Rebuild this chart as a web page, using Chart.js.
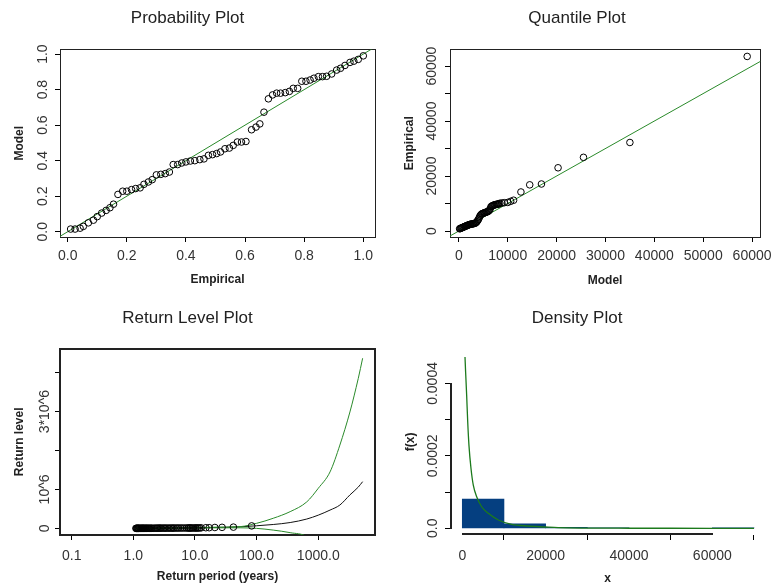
<!DOCTYPE html>
<html>
<head>
<meta charset="utf-8">
<title>GPD diagnostics</title>
<script src="https://cdn.jsdelivr.net/npm/chart.js@4/dist/chart.umd.min.js"></script>
<style>
  body { margin: 0; background: #fff; }
  #wrap { display: grid; grid-template-columns: 389px 389px; grid-template-rows: 294px 294px; width: 778px; height: 588px; }
  #wrap div { position: relative; width: 389px; height: 294px; }
</style>
</head>
<body>
<div id="wrap">
  <div><canvas id="prob" width="389" height="294"></canvas></div>
  <div><canvas id="quant" width="389" height="294"></canvas></div>
  <div><canvas id="retlev" width="389" height="294"></canvas></div>
  <div><canvas id="dens" width="389" height="294"></canvas></div>
</div>
<script>
// probability plot: empirical vs model probabilities
const probEmpirical = [0.01, 0.025, 0.042, 0.053, 0.07, 0.087, 0.10, 0.115, 0.13, 0.143, 0.155, 0.17, 0.186, 0.20, 0.216, 0.23, 0.245, 0.258, 0.273, 0.286, 0.30, 0.315, 0.33, 0.344, 0.357, 0.372, 0.386, 0.40, 0.415, 0.43, 0.447, 0.461, 0.476, 0.49, 0.504, 0.517, 0.532, 0.547, 0.56, 0.574, 0.588, 0.603, 0.622, 0.637, 0.65, 0.664, 0.679, 0.693, 0.707, 0.72, 0.736, 0.75, 0.763, 0.778, 0.792, 0.806, 0.82, 0.833, 0.848, 0.862, 0.876, 0.893, 0.91, 0.923, 0.938, 0.955, 0.968, 0.983, 1.0];
const probModel = [0.015, 0.015, 0.02, 0.03, 0.05, 0.065, 0.085, 0.105, 0.12, 0.135, 0.155, 0.21, 0.228, 0.228, 0.237, 0.243, 0.247, 0.267, 0.28, 0.293, 0.32, 0.323, 0.327, 0.336, 0.378, 0.378, 0.387, 0.393, 0.398, 0.40, 0.406, 0.41, 0.43, 0.434, 0.44, 0.449, 0.467, 0.471, 0.486, 0.505, 0.505, 0.508, 0.574, 0.589, 0.607, 0.673, 0.748, 0.77, 0.78, 0.78, 0.783, 0.79, 0.807, 0.807, 0.847, 0.847, 0.854, 0.864, 0.873, 0.873, 0.875, 0.888, 0.91, 0.92, 0.936, 0.953, 0.96, 0.97, 0.99];
const probTicks = [0, 0.2, 0.4, 0.6, 0.8, 1.0];
const probTickLabels = ['0.0', '0.2', '0.4', '0.6', '0.8', '1.0'];

// quantile plot: model quantiles vs sorted observations
const quantModel = [150, 270, 400, 520, 650, 780, 900, 1030, 1160, 1290, 1420, 1550, 1690, 1820, 1960, 2100, 2240, 2380, 2520, 2660, 2800, 2950, 3100, 3250, 3400,
  3550, 3700, 3850, 4000, 4150, 4300, 4450, 4600,
  4750, 4900, 5050, 5200, 5350, 5500, 5650, 5800, 5950, 6100, 6250, 6400,
  6550, 6700, 6850, 7000, 7150, 7300, 7450, 7600, 7750, 7900, 8050, 8200,
  8400, 8800, 9300, 10000, 10600, 11200, 12700, 14500, 16900,
  20300, 25500, 35000, 59000];
const quantEmpirical = [800, 900, 1000, 1100, 1200, 1300, 1400, 1500, 1600, 1700, 1800, 1900, 2000, 2100, 2200, 2300, 2400, 2450, 2500, 2550, 2600, 2650, 2700, 2800, 2900,
  3100, 3400, 3800, 4200, 4800, 5400, 5800, 6100,
  6300, 6400, 6500, 6600, 6700, 6800, 6900, 7000, 7100, 7300, 7600, 8000,
  8800, 9000, 9200, 9300, 9400, 9500, 9600, 9650, 9700, 9750, 9800, 9900,
  10100, 10200, 10300, 10400, 10800, 11200, 14200, 16800, 17100,
  23000, 26800, 32200, 63500];
const quantXTicks = [0, 10000, 20000, 30000, 40000, 50000, 60000];
const quantXLabels = ['0', '10000', '20000', '30000', '40000', '50000', '60000'];
const quantYTicks = [0, 10000, 20000, 30000, 40000, 50000, 60000];
const quantYLabels = ['0', '', '20000', '', '40000', '', '60000'];

// return level plot
const returnPeriods = [1.1, 1.12, 1.14, 1.16, 1.18, 1.2, 1.22, 1.24, 1.27, 1.3, 1.33, 1.36, 1.39, 1.42, 1.45, 1.48, 1.52, 1.56, 1.6, 1.64, 1.68, 1.73, 1.78, 1.83, 1.89, 1.95, 2.0, 2.1, 2.2, 2.3, 2.4, 2.5, 2.6, 2.7, 2.8, 2.95, 3.1, 3.25, 3.4, 3.6, 3.8, 4.0, 4.2, 4.4, 4.6, 4.9, 5.2, 5.5, 5.9, 6.3, 6.8, 7.3, 7.7, 8.0, 8.3, 8.6, 9.0, 9.5, 10.0, 10.4, 10.9, 11.3, 11.9, 12.6, 15, 17, 21, 27.5, 42, 83];
const curvePeriods = [1.1, 2, 5, 10, 20, 54, 100, 186, 350, 650, 1000, 1550, 2240, 3260, 4450, 5240];
const levelFit = [500, 3000, 8000, 13000, 22000, 40000, 67000, 100000, 150000, 240000, 340000, 470000, 600000, 860000, 1060000, 1200000];
const levelUpper = [700, 5000, 12000, 18000, 30000, 45000, 130000, 260000, 430000, 680000, 1030000, 1450000, 2140000, 2990000, 3850000, 4370000];
const levelLower = [300, 2000, 5000, 9000, 14000, 15000, 0, -44000, -110000, -210000, -500000, -800000, -1200000, -1700000, -2200000, -2600000];
const periodTicks = [0.1, 1, 10, 100, 1000];
const periodLabels = ['0.1', '1.0', '10.0', '100.0', '1000.0'];
const levelTicks = [0, 1e6, 2e6, 3e6, 4e6];
const levelLabels = ['0', '10^6', '', '3*10^6', ''];

// density plot: histogram bins and fitted density
const binCentres = [5000, 15000, 25000, 35000, 45000, 55000, 65000];
const binHeights = [0.0000807, 0.0000125, 0.0000029, 0.0000014, 0, 0, 0.0000014];
const densX = [650, 800, 1050, 1300, 1600, 2090, 2640, 3450, 4650, 6240, 8640, 11850, 15840, 19850, 23000, 30000, 40000, 50000, 60000, 70000];
const densY = [0.000473, 0.000431, 0.000367, 0.000294, 0.000229, 0.000165, 0.000119, 0.000087, 0.0000595, 0.0000413, 0.0000229, 0.000011, 0.0000063, 0.0000036, 0.0000017, 0.0000006, 0.0000002, 0.0000001, 0.00000005, 0.00000003];
const densXTicks = [0, 20000, 40000, 60000];
const densXLabels = ['0', '20000', '40000', '60000'];
const densYTicks = [0, 0.0001, 0.0002, 0.0003, 0.0004];
const densYLabels = ['0.0', '', '0.0002', '', '0.0004'];

const FONT = "'Liberation Sans', Arial, sans-serif";
const GREEN = '#2a8a2a';
const TICK_COLOR = '#333';
const TICK_SIZE = 14;

const pairs = (xs, ys) => xs.map((x, i) => ({ x: x, y: ys[i] }));

// R-style axis lines that only span the first to last tick (no box)
const tickSpanAxes = {
  id: 'tickSpanAxes',
  afterDraw(chart, args, opts) {
    if (!opts.xTicks) return;
    const ctx = chart.ctx, xs = chart.scales.x, ys = chart.scales.y;
    const w = opts.width;
    const yTop = Math.round(ys.getPixelForValue(opts.yTicks[opts.yTicks.length - 1]));
    const yBot = Math.round(ys.getPixelForValue(opts.yTicks[0]));
    const xL = Math.round(xs.getPixelForValue(opts.xTicks[0]));
    const xR = Math.round(xs.getPixelForValue(opts.xTicks[opts.xTicks.length - 1]));
    const l = Math.round(xs.left), b = Math.round(ys.bottom);
    ctx.save();
    ctx.fillStyle = '#222';
    ctx.fillRect(l, yTop, w, yBot - yTop + 1);
    ctx.fillRect(xL, b - w, xR - xL + 1, w);
    ctx.restore();
  }
};

// y tick labels read upwards, centred on the tick
const uprightLabels = {
  id: 'uprightLabels',
  afterDraw(chart, args, opts) {
    const ctx = chart.ctx, s = chart.scales.y;
    ctx.save();
    ctx.font = TICK_SIZE + 'px ' + FONT;
    ctx.fillStyle = TICK_COLOR;
    ctx.textAlign = 'center';
    ctx.textBaseline = 'middle';
    s.ticks.forEach((t, i) => {
      if (!t.label) return;
      ctx.save();
      ctx.translate(chart.scales.x.left - opts.offset, s.getPixelForTick(i));
      ctx.rotate(-Math.PI / 2);
      ctx.fillText(t.label, 0, 0);
      ctx.restore();
    });
    ctx.restore();
  }
};

function xAxis(p) {
  return {
    type: p.type || 'linear',
    min: p.min, max: p.max,
    offset: false,
    afterBuildTicks: s => { s.ticks = p.ticks.map(v => ({ value: v })); },
    afterFit: s => { s.height = p.height; },
    ticks: { font: { family: FONT, size: TICK_SIZE }, color: TICK_COLOR, padding: p.pad, autoSkip: false, maxRotation: 0, callback: (v, i) => p.labels[i] },
    grid: { drawOnChartArea: false, tickLength: 5, color: '#000' },
    border: { display: !!p.border, color: '#222', width: p.border || 1 },
    title: { display: true, text: p.title, color: '#222', font: { family: FONT, size: 12, weight: 'bold' }, padding: { top: 0, bottom: p.titlePad } }
  };
}

function yAxis(p) {
  return {
    type: 'linear',
    min: p.min, max: p.max,
    afterBuildTicks: s => { s.ticks = p.ticks.map(v => ({ value: v })); },
    afterFit: s => { s.width = p.width; },
    ticks: { display: false, callback: (v, i) => p.labels[i] },
    grid: { drawOnChartArea: false, tickLength: 5, color: '#000' },
    border: { display: !!p.border, color: '#222', width: p.border || 1 },
    title: { display: true, text: p.title, color: '#222', font: { family: FONT, size: 12, weight: 'bold' }, padding: { top: p.titlePad, bottom: 0 } }
  };
}

// blank axis on the top or right that only contributes the frame edge
function edgeAxis(position, width) {
  return {
    type: 'linear', position: position, display: true,
    ticks: { display: false },
    grid: { display: false, drawTicks: false },
    border: { display: true, color: '#222', width: width },
    afterFit: s => { if (position === 'top') s.height = 0; else s.width = 0; }
  };
}

function panel(id, p) {
  const scales = { x: p.x, y: p.y };
  if (p.box) {
    scales.x2 = edgeAxis('top', p.box.top);
    scales.y2 = edgeAxis('right', p.box.side);
  }
  return new Chart(document.getElementById(id), {
    type: 'scatter',
    data: { datasets: p.datasets },
    options: {
      responsive: false,
      animation: false,
      devicePixelRatio: 1,
      layout: { padding: { left: 0, right: p.right, top: 0, bottom: 0 } },
      scales: scales,
      plugins: {
        legend: { display: false },
        tooltip: { enabled: false },
        title: { display: true, text: p.title, color: '#222', font: { family: FONT, size: 17, weight: 'normal' }, padding: { top: p.titleTop, bottom: p.titleBottom } },
        tickSpanAxes: p.span || {},
        uprightLabels: { offset: p.labelOffset }
      }
    },
    plugins: [tickSpanAxes, uprightLabels]
  });
}

const circles = data => ({
  data: data, showLine: false, pointStyle: 'circle', pointRadius: 3.3,
  borderColor: '#000', borderWidth: 1, backgroundColor: 'rgba(0,0,0,0)', order: 1
});
const curve = (data, color, w) => ({
  data: data, showLine: true, pointRadius: 0, borderColor: color, borderWidth: w || 1,
  cubicInterpolationMode: 'monotone', order: 2
});

// title text sits 17.4px high; top + bottom padding place the plot region
panel('prob', {
  title: 'Probability Plot', titleTop: 7.8, titleBottom: 21.2, right: 14, labelOffset: 16.7,
  box: { top: 1, side: 1 },
  datasets: [
    curve([{ x: -0.1, y: -0.1 }, { x: 1.1, y: 1.1 }], GREEN),
    circles(pairs(probEmpirical, probModel))
  ],
  x: xAxis({ min: -0.026, max: 1.0396, ticks: probTicks, labels: probTickLabels, height: 57, pad: 6, title: 'Empirical', titlePad: 7.5, border: 1 }),
  y: yAxis({ min: -0.0297, max: 1.0263, ticks: probTicks, labels: probTickLabels, width: 60, title: 'Model', titlePad: 12.8, border: 1 })
});

panel('quant', {
  title: 'Quantile Plot', titleTop: 7.8, titleBottom: 21.2, right: 13, labelOffset: 17.7,
  box: { top: 1, side: 1 },
  datasets: [
    curve([{ x: -5000, y: -5000 }, { x: 70000, y: 70000 }], GREEN),
    circles(pairs(quantModel, quantEmpirical))
  ],
  x: xAxis({ min: -1814, max: 61670, ticks: quantXTicks, labels: quantXLabels, height: 57, pad: 6, title: 'Model', titlePad: 6.1, border: 1 }),
  y: yAxis({ min: -2178, max: 66060, ticks: quantYTicks, labels: quantYLabels, width: 61, title: 'Empirical', titlePad: 13.8, border: 1 })
});

panel('retlev', {
  title: 'Return Level Plot', titleTop: 13.8, titleBottom: 20.5, right: 14, labelOffset: 15,
  box: { top: 2, side: 2 },
  datasets: [
    curve(pairs(curvePeriods, levelUpper), GREEN),
    curve(pairs(curvePeriods, levelLower), GREEN),
    curve(pairs(curvePeriods, levelFit), '#111'),
    circles(pairs(returnPeriods, quantEmpirical))
  ],
  x: xAxis({ type: 'logarithmic', min: 0.0646, max: 8318, ticks: periodTicks, labels: periodLabels, height: 53, pad: 8, title: 'Return period (years)', titlePad: 4.1, border: 2 }),
  y: yAxis({ min: -170000, max: 4615000, ticks: levelTicks, labels: levelLabels, width: 60, title: 'Return level', titlePad: 12.8, border: 2 })
});

panel('dens', {
  title: 'Density Plot', titleTop: 13.8, titleBottom: 20.5, right: 13, labelOffset: 17,
  span: { xTicks: densXTicks, yTicks: densYTicks, width: 2 },
  datasets: [
    {
      type: 'bar', data: pairs(binCentres, binHeights), backgroundColor: '#053f80',
      borderWidth: 0, barPercentage: 1, categoryPercentage: 1, order: 3
    },
    curve(pairs(densX, densY), '#1c7a1c', 1.3)
  ],
  x: xAxis({ min: -2950, max: 72640, ticks: densXTicks, labels: densXLabels, height: 53, pad: 8, title: 'x', titlePad: 2.5 }),
  y: yAxis({ min: -0.0000185, max: 0.000496, ticks: densYTicks, labels: densYLabels, width: 61, title: 'f(x)', titlePad: 14.5 })
});
</script>
</body>
</html>
